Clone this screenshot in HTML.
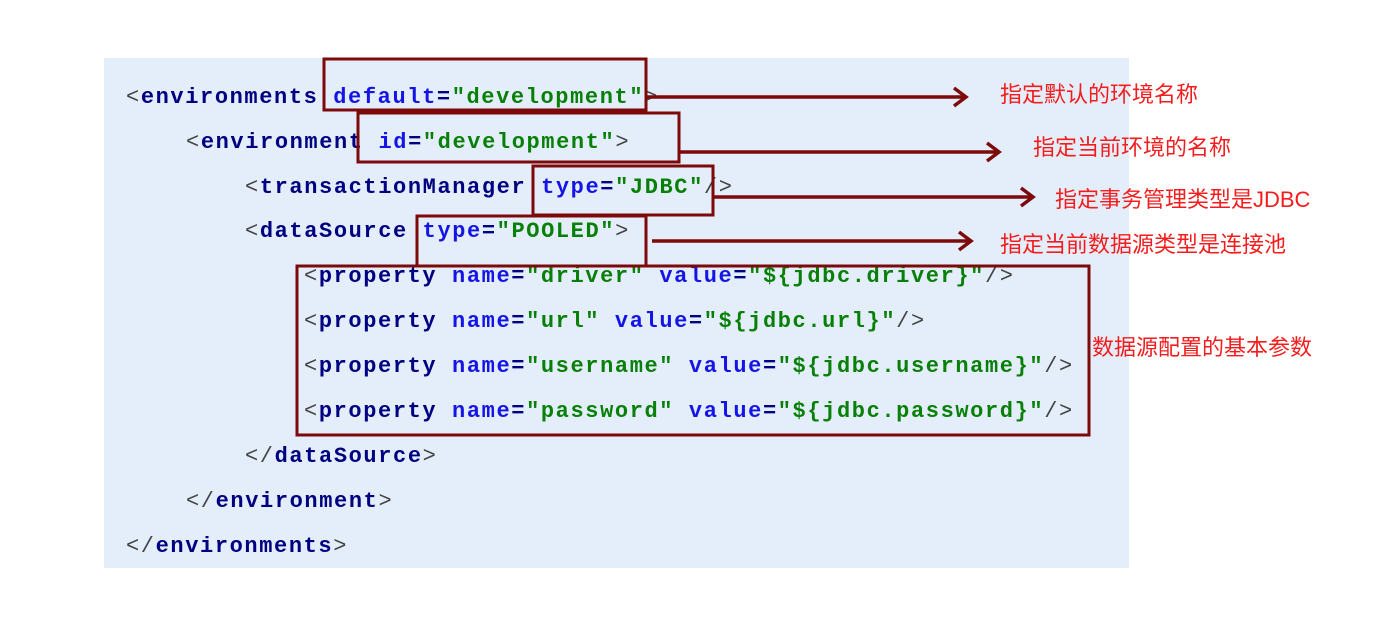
<!DOCTYPE html>
<html><head><meta charset="utf-8"><style>
body{margin:0;width:1382px;height:624px;background:#fff;position:relative;overflow:hidden}
#bg{position:absolute;left:104px;top:58px;width:1025px;height:510px;background:#e4eefb}
.l{position:absolute;font-family:"Liberation Mono",monospace;font-weight:bold;font-size:22px;letter-spacing:1.6px;white-space:pre;line-height:26px;color:#000080}
.g{color:#444;font-weight:normal}.a{color:#1414e6}.v{color:#088008}
.t{position:absolute;font-family:"Liberation Sans","Noto Sans CJK SC",sans-serif;font-size:22px;color:#f41c1c;white-space:pre;line-height:26px}
svg{position:absolute;left:0;top:0}
</style></head><body>
<div id="bg"></div>
<div class="l" style="left:126px;top:85px"><span class="g">&lt;</span>environments <span class="a">default</span>=<span class="v">"development"</span><span class="g">&gt;</span></div>
<div class="l" style="left:186px;top:130px"><span class="g">&lt;</span>environment <span class="a">id</span>=<span class="v">"development"</span><span class="g">&gt;</span></div>
<div class="l" style="left:245px;top:175px"><span class="g">&lt;</span>transactionManager <span class="a">type</span>=<span class="v">"JDBC"</span><span class="g">/&gt;</span></div>
<div class="l" style="left:245px;top:219px"><span class="g">&lt;</span>dataSource <span class="a">type</span>=<span class="v">"POOLED"</span><span class="g">&gt;</span></div>
<div class="l" style="left:304px;top:264px"><span class="g">&lt;</span>property <span class="a">name</span>=<span class="v">"driver"</span> <span class="a">value</span>=<span class="v">"${jdbc.driver}"</span><span class="g">/&gt;</span></div>
<div class="l" style="left:304px;top:309px"><span class="g">&lt;</span>property <span class="a">name</span>=<span class="v">"url"</span> <span class="a">value</span>=<span class="v">"${jdbc.url}"</span><span class="g">/&gt;</span></div>
<div class="l" style="left:304px;top:354px"><span class="g">&lt;</span>property <span class="a">name</span>=<span class="v">"username"</span> <span class="a">value</span>=<span class="v">"${jdbc.username}"</span><span class="g">/&gt;</span></div>
<div class="l" style="left:304px;top:399px"><span class="g">&lt;</span>property <span class="a">name</span>=<span class="v">"password"</span> <span class="a">value</span>=<span class="v">"${jdbc.password}"</span><span class="g">/&gt;</span></div>
<div class="l" style="left:245px;top:444px"><span class="g">&lt;/</span>dataSource<span class="g">&gt;</span></div>
<div class="l" style="left:186px;top:489px"><span class="g">&lt;/</span>environment<span class="g">&gt;</span></div>
<div class="l" style="left:126px;top:534px"><span class="g">&lt;/</span>environments<span class="g">&gt;</span></div>
<svg width="1382" height="624" fill="none" stroke="#7d0a0a" stroke-width="3">
<rect x="324" y="59" width="322" height="51"/>
<rect x="358" y="113" width="321" height="49"/>
<rect x="533" y="166" width="180" height="49"/>
<path d="M417 266 V216 H646 V266"/>
<rect x="297" y="266" width="792" height="169"/>
<g stroke-width="3.5">
<path d="M647 97 H966 M954 88 L966 97 L954 106"/>
<path d="M680 152 H999 M987 143 L999 152 L987 161"/>
<path d="M714 197 H1033 M1021 188 L1033 197 L1021 206"/>
<path d="M652 241 H971 M959 232 L971 241 L959 250"/>
</g>
</svg>
<div class="t" style="left:1000px;top:82px">指定默认的环境名称</div>
<div class="t" style="left:1033px;top:135px">指定当前环境的名称</div>
<div class="t" style="left:1055px;top:187px">指定事务管理类型是JDBC</div>
<div class="t" style="left:1000px;top:232px">指定当前数据源类型是连接池</div>
<div class="t" style="left:1092px;top:335px">数据源配置的基本参数</div>
</body></html>
